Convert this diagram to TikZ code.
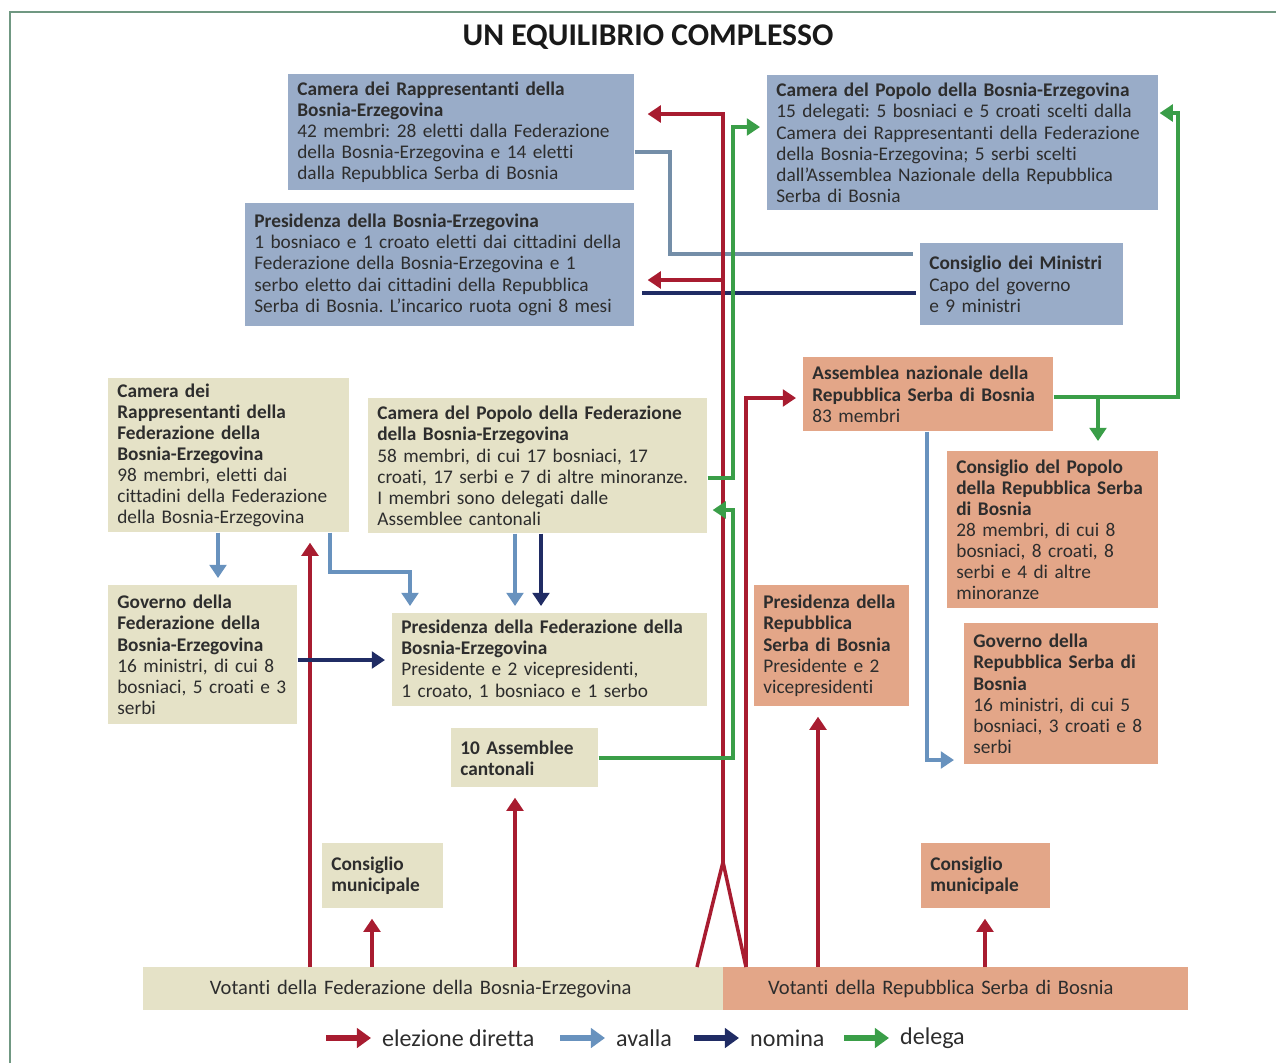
\documentclass[tikz,border=0pt]{standalone}
\usepackage{fontspec}
\setmainfont{Carlito}[Ligatures=NoCommon]
\usetikzlibrary{arrows.meta}
\usetikzlibrary{positioning}
\definecolor{bihblue}{RGB}{153,172,200}
\definecolor{fedbeige}{RGB}{229,226,199}
\definecolor{rssalmon}{RGB}{227,166,136}
\definecolor{elezred}{RGB}{168,28,48}
\definecolor{avallablue}{RGB}{104,146,190}
\definecolor{greyblue}{RGB}{116,142,168}
\definecolor{nominanavy}{RGB}{32,44,100}
\definecolor{delegagreen}{RGB}{58,158,72}
\definecolor{framegreen}{RGB}{112,152,130}
\definecolor{inkgrey}{RGB}{45,45,45}
\frenchspacing

\begin{document}
\begin{tikzpicture}[x=0.02cm,y=-0.02cm,>={Triangle[width=9.5pt,length=7.5pt]},
    box/.style={anchor=north west,inner xsep=0.18cm,inner ysep=0.1cm,align=left,
      text=inkgrey,font=\fontsize{11}{12}\selectfont},
    bih box/.style={box,fill=bihblue},
    fed box/.style={box,fill=fedbeige},
    rs box/.style={box,fill=rssalmon},
    elez/.style={elezred,line width=2pt},
    aval/.style={avallablue,line width=2pt},
    nom/.style={nominanavy,line width=2pt},
    deleg/.style={delegagreen,line width=2pt},
    tip gap/.style={shorten >=#1},tip gap/.default=0.2cm,
    legend arrow/.style={line width=3pt,->,>={Triangle[width=11pt,length=8pt]}},
    legend text/.style={anchor=west,text=inkgrey,font=\fontsize{13.7}{15}\selectfont}]
  \useasboundingbox (0,0) rectangle (1276,1063);
  \draw[framegreen,line width=1.6pt] (10,1063) -- (10,12) -- (1276,12);
  \node[font=\fontsize{18}{20}\selectfont\bfseries,text=black!90] (title) at (648,37) {UN EQUILIBRIO COMPLESSO};

  % state level
  \node[bih box,text width=6.56cm,minimum height=2.32cm] (camRapBiH) at (288,74)
    {\textbf{Camera dei Rappresentanti della}\\ \textbf{Bosnia-Erzegovina}\\ 42 membri: 28 eletti dalla Federazione\\ della Bosnia-Erzegovina e 14 eletti\\ dalla Repubblica Serba di Bosnia};
  \node[bih box,text width=7.42cm,minimum height=2.46cm] (presBiH) at (245,203)
    {\textbf{Presidenza della Bosnia-Erzegovina}\\ 1 bosniaco e 1 croato eletti dai cittadini della\\ Federazione della Bosnia-Erzegovina e 1\\ serbo eletto dai cittadini della Repubblica\\ Serba di Bosnia. L’incarico ruota ogni 8 mesi};
  \node[bih box,text width=7.46cm,minimum height=2.7cm] (camPopBiH) at (767,75)
    {\textbf{Camera del Popolo della Bosnia-Erzegovina}\\ 15 delegati: 5 bosniaci e 5 croati scelti dalla\\ Camera dei Rappresentanti della Federazione\\ della Bosnia-Erzegovina; 5 serbi scelti\\ dall’Assemblea Nazionale della Repubblica\\ Serba di Bosnia};
  \node[bih box,text width=3.70cm,minimum height=1.64cm] (consMin) at (920,243)
    {\textbf{Consiglio dei Ministri}\\ Capo del governo\\ e 9 ministri};

  % Republika Srpska
  \node[rs box,text width=4.64cm,minimum height=1.48cm] (assNazRS) at (803,357)
    {\textbf{Assemblea nazionale della}\\ \textbf{Repubblica Serba di Bosnia}\\ 83 membri};
  \node[rs box,text width=3.86cm,minimum height=3.14cm] (consPopRS) at (947,451)
    {\textbf{Consiglio del Popolo}\\ \textbf{della Repubblica Serba}\\ \textbf{di Bosnia}\\ 28 membri, di cui 8\\ bosniaci, 8 croati, 8\\ serbi e 4 di altre\\ minoranze};
  \node[rs box,text width=3.52cm,minimum height=2.82cm] (govRS) at (964,623)
    {\textbf{Governo della}\\ \textbf{Repubblica Serba di}\\ \textbf{Bosnia}\\ 16 ministri, di cui 5\\ bosniaci, 3 croati e 8\\ serbi};
  \node[rs box,text width=2.74cm,minimum height=2.42cm] (presRS) at (754,585)
    {\textbf{Presidenza della}\\ \textbf{Repubblica}\\ \textbf{Serba di Bosnia}\\ Presidente e 2\\ vicepresidenti};
  \node[rs box,text width=2.22cm,minimum height=1.3cm] (consMunRS) at (921,843)
    {\textbf{Consiglio}\\ \textbf{municipale}};

  % Federazione
  \node[fed box,text width=4.46cm,minimum height=3.08cm] (camRapFed) at (108,378)
    {\textbf{Camera dei}\\ \textbf{Rappresentanti della}\\ \textbf{Federazione della}\\ \textbf{Bosnia-Erzegovina}\\ 98 membri, eletti dai\\ cittadini della Federazione\\ della Bosnia-Erzegovina};
  \node[fed box,text width=6.42cm,minimum height=2.7cm] (camPopFed) at (368,398)
    {\textbf{Camera del Popolo della Federazione}\\ \textbf{della Bosnia-Erzegovina}\\ 58 membri, di cui 17 bosniaci, 17\\ croati, 17 serbi e 7 di altre minoranze.\\ I membri sono delegati dalle\\ Assemblee cantonali};
  \node[fed box,text width=3.42cm,minimum height=2.78cm] (govFed) at (108,585)
    {\textbf{Governo della}\\ \textbf{Federazione della}\\ \textbf{Bosnia-Erzegovina}\\ 16 ministri, di cui 8\\ bosniaci, 5 croati e 3\\ serbi};
  \node[fed box,text width=5.94cm,minimum height=1.86cm] (presFed) at (392,613)
    {\textbf{Presidenza della Federazione della}\\ \textbf{Bosnia-Erzegovina}\\ Presidente e 2 vicepresidenti,\\ 1 croato, 1 bosniaco e 1 serbo};
  \node[fed box,text width=2.58cm,minimum height=1.18cm] (assCant) at (451,728)
    {\textbf{10 Assemblee}\\ \textbf{cantonali}};
  \node[fed box,text width=2.06cm,minimum height=1.3cm] (consMunFed) at (322,843)
    {\textbf{Consiglio}\\ \textbf{municipale}};

  % voters
  \node[fed box,align=center,text width=11.24cm,minimum height=0.86cm,inner ysep=0pt,
    font=\fontsize{11.7}{13}\selectfont] (votFed) at (143,967)
    {\hspace*{-0.5cm}Votanti della Federazione della Bosnia-Erzegovina};
  \node[rs box,align=center,text width=8.94cm,minimum height=0.86cm,inner ysep=0pt,
    font=\fontsize{11.7}{13}\selectfont] (votRS) at (723,967)
    {\hspace*{-0.6cm}Votanti della Repubblica Serba di Bosnia};

  % avalla / nomina at state level
  \draw[greyblue,line width=2pt,shorten >=0.15cm] (camRapBiH.east |- 0,152) -| (670,254) -- (consMin.west |- 0,254);
  \draw[nom,shorten >=0.15cm,shorten <=0.08cm] (consMin.west |- 0,293) -- (presBiH.east |- 0,293);

  % elezione diretta
  \coordinate (fork) at (723,862);
  \draw[elez,line join=miter] (votFed.north -| 697,0) -- (fork) -- (votRS.north -| 746,0);
  \draw[elez,->,tip gap=0.26cm] (fork) -- (723,114) -- (camRapBiH.east |- 0,114);
  \draw[elez,->,tip gap=0.26cm] (723,280) -- (presBiH.east |- 0,280);
  \draw[elez,->,tip gap=0.14cm] (votRS.north -| 746,0) |- (assNazRS.west |- 0,398);
  \path[elez,->,tip gap] (votFed.north -| 310,0) edge (camRapFed.south -| 310,0);
  \path[elez,->,tip gap] (votFed.north -| 372,0) edge (consMunFed.south -| 372,0);
  \path[elez,->,tip gap] (votFed.north -| 515,0) edge (assCant.south -| 515,0);
  \path[elez,->,tip gap] (votRS.north -| 818,0) edge (presRS.south -| 818,0);
  \path[elez,->,tip gap] (votRS.north -| 985,0) edge (consMunRS.south -| 985,0);

  % delega
  \draw[deleg,->,tip gap=0.14cm] (camPopFed.east |- 0,478) -| (733,127) -- (camPopBiH.west |- 0,127);
  \draw[deleg,->,tip gap=0.1cm] (assCant.east) -| (733,510) -- (camPopFed.east |- 0,510);
  \draw[deleg,->,tip gap=0.02cm] (assNazRS.east |- 0,397) -| (1178,113) -- (camPopBiH.east |- 0,113);
  \path[deleg,->,tip gap] (1098,397) edge (consPopRS.north -| 1098,0);

  % avalla / nomina in the entities
  \path[aval,->,tip gap=0.14cm] (camRapFed.south -| 218,0) edge (govFed.north -| 218,0);
  \draw[aval,->,tip gap=0.14cm] (camRapFed.south -| 330,0) |- (410,572) -- (presFed.north -| 410,0);
  \path[aval,->,tip gap=0.14cm] (camPopFed.south -| 515,0) edge (presFed.north -| 515,0);
  \path[nom,->,tip gap=0.14cm] (camPopFed.south -| 541,0) edge (presFed.north -| 541,0);
  \path[nom,->,tip gap=0.14cm] (govFed.east |- 0,660) edge (presFed.west |- 0,660);
  \draw[aval,->,tip gap] (assNazRS.south -| 927,0) |- (govRS.west |- 0,760);

  % legend
  \node[legend text] (legElez) at (376,1038) {elezione diretta};
  \node[legend text] (legAval) at (610,1038) {avalla};
  \node[legend text] (legNom) at (744,1038) {nomina};
  \node[legend text] (legDeleg) at (894,1038) {delega};
  \draw[legend arrow,elezred] ([xshift=-1.0cm]legElez.west) -- ([xshift=-0.1cm]legElez.west);
  \draw[legend arrow,avallablue] ([xshift=-1.0cm]legAval.west) -- ([xshift=-0.1cm]legAval.west);
  \draw[legend arrow,nominanavy] ([xshift=-1.0cm]legNom.west) -- ([xshift=-0.1cm]legNom.west);
  \draw[legend arrow,delegagreen] ([xshift=-1.0cm]legDeleg.west) -- ([xshift=-0.1cm]legDeleg.west);
\end{tikzpicture}
\end{document}
